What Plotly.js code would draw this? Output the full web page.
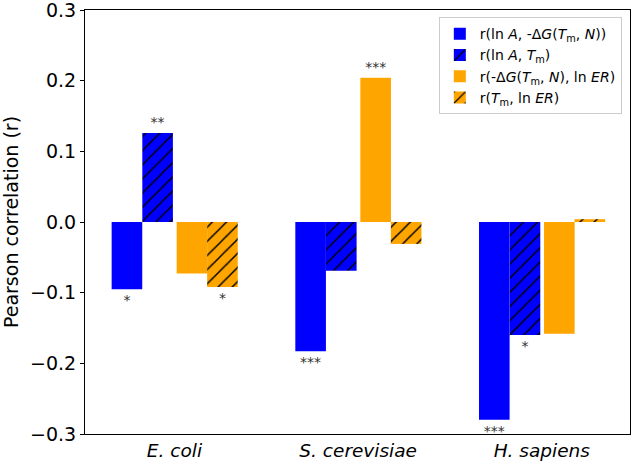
<!DOCTYPE html>
<html>
<head>
<meta charset="utf-8">
<script src="https://cdn.plot.ly/plotly-3.0.1.min.js"></script>
<style>
  html, body { margin: 0; padding: 0; background: #fff; }
  #chart { width: 633px; height: 467px; }
</style>
</head>
<body>
<div id="chart"></div>
<script>
// organisms on the x axis
var organisms = ["<i>E. coli</i>", "<i>S. cerevisiae</i>", "<i>H. sapiens</i>"];

// correlation values
var lnA_dG = [-0.095, -0.183, -0.280];
var lnA_Tm = [0.126, -0.069, -0.160];
var dG_lnER = [-0.073, 0.204, -0.158];
var Tm_lnER = [-0.092, -0.031, 0.004];

// significance stars
var lnA_dG_sig = ["*", "***", "***"];
var lnA_Tm_sig = ["**", " ", "*"];
var dG_lnER_sig = [" ", "***", " "];
var Tm_lnER_sig = ["*", " ", " "];

var names = [
  "r(ln <i>A</i>, -Δ<i>G</i>(<i>T</i><sub>m</sub>, <i>N</i>))",
  "r(ln <i>A</i>, <i>T</i><sub>m</sub>)",
  "r(-Δ<i>G</i>(<i>T</i><sub>m</sub>, <i>N</i>), ln <i>ER</i>)",
  "r(<i>T</i><sub>m</sub>, ln <i>ER</i>)"
];

var barW = 0.1666;
var starFont = {family: "DejaVu Sans", size: 14, color: "#333"};

function makeBar(vals, sig, name, offset, color, hatched) {
  var marker = {color: color, line: {width: 0}};
  if (hatched) {
    marker.pattern = {shape: "/", fgcolor: "#000", bgcolor: color, size: 10, solidity: 0.15};
  }
  return {
    type: "bar",
    x: organisms,
    y: vals,
    name: name,
    width: barW,
    offset: offset,
    marker: marker,
    text: sig,
    textposition: "outside",
    textfont: starFont,
    constraintext: "none",
    cliponaxis: false,
    hoverinfo: "y+name"
  };
}

var data = [
  makeBar(lnA_dG, lnA_dG_sig, names[0], -0.342, "#0000ff", false),
  makeBar(lnA_Tm, lnA_Tm_sig, names[1], -0.175, "#0000ff", true),
  makeBar(dG_lnER, dG_lnER_sig, names[2], 0.012, "#ffa500", false),
  makeBar(Tm_lnER, Tm_lnER_sig, names[3], 0.178, "#ffa500", true)
];

var layout = {
  width: 633,
  height: 467,
  margin: {l: 85, r: 3, t: 10, b: 33},
  paper_bgcolor: "#fff",
  plot_bgcolor: "#fff",
  font: {family: "DejaVu Sans", size: 16, color: "#000"},
  barmode: "overlay",
  showlegend: true,
  xaxis: {
    range: [-0.487, 2.48],
    showgrid: false,
    zeroline: false,
    showline: true,
    linecolor: "#000",
    linewidth: 1,
    mirror: true,
    ticks: "",
    tickfont: {size: 18.5}
  },
  yaxis: {
    range: [-0.3, 0.3],
    dtick: 0.1,
    tickformat: ".1f",
    showgrid: false,
    zeroline: false,
    showline: true,
    linecolor: "#000",
    linewidth: 1,
    mirror: true,
    ticks: "outside",
    ticklen: 4,
    tickcolor: "#000",
    tickfont: {size: 19},
    ticklabeloverflow: "allow",
    title: {text: "Pearson correlation (r)", font: {size: 19}, standoff: 6}
  },
  legend: {
    x: 0.985,
    y: 0.983,
    xanchor: "right",
    yanchor: "top",
    bgcolor: "rgba(255,255,255,0.9)",
    bordercolor: "#ccc",
    borderwidth: 1,
    font: {size: 14}
  }
};

Plotly.newPlot("chart", data, layout, {displayModeBar: false});
</script>
</body>
</html>
